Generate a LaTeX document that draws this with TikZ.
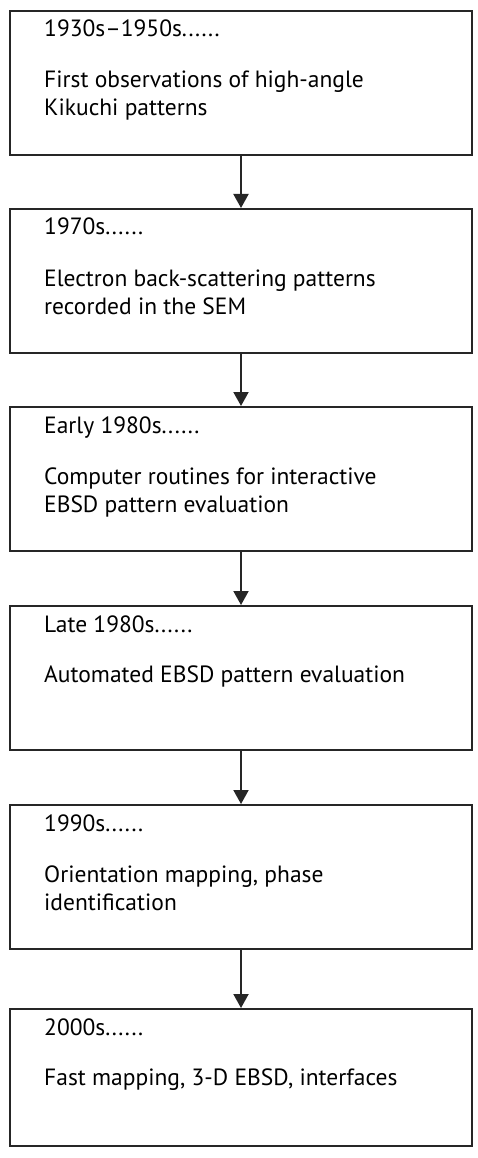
\documentclass[tikz,border=0pt]{standalone}
\usepackage{fontspec}
\setmainfont{PT Sans}
\usepackage{tikz}
\usetikzlibrary{positioning,arrows.meta}

\begin{document}
\begin{tikzpicture}[x=1pt, y=1pt,
    stage/.style={draw=black!85, line width=2pt, minimum width=462pt,
        minimum height=144pt, inner sep=0pt, anchor=north},
    era/.style={anchor=base west, inner sep=0pt, font=\fontsize{23.5}{28}\selectfont},
    event/.style={era, align=left},
    flow/.style={-{Triangle[width=15pt,length=14pt]}, line width=2pt, black!85}]
    \useasboundingbox (0,0) rectangle (477,-1158);

    % timeline boxes
    \node[stage] (s1930) at (241,-10) {};
    \node[stage] (s1970) at (241,-208) {};
    \node[stage] (searly) at (241,-406) {};
    \node[stage] (slate) at (241,-605) {};
    \node[stage] (s1990) at (241,-804) {};
    \node[stage, minimum height=137pt] (s2000) at (241,-1008) {};

    % texts (two-line texts sit on their last baseline)
    \node[era] (h1930) at ([shift={(35,-27)}]s1930.north west) {1930s–1950s......};
    \node[event] (e1930) at ([shift={(35,-106)}]s1930.north west) {First observations of high-angle\\Kikuchi patterns};

    \node[era] (h1970) at ([shift={(35,-27)}]s1970.north west) {1970s......};
    \node[event] (e1970) at ([shift={(35,-106)}]s1970.north west) {Electron back-scattering patterns\\recorded in the SEM};

    \node[era] (hearly) at ([shift={(35,-27)}]searly.north west) {Early 1980s......};
    \node[event] (eearly) at ([shift={(35,-106)}]searly.north west) {Computer routines for interactive\\EBSD pattern evaluation};

    \node[era] (hlate) at ([shift={(35,-27)}]slate.north west) {Late 1980s......};
    \node[event] (elate) at ([shift={(35,-77)}]slate.north west) {Automated EBSD pattern evaluation};

    \node[era] (h1990) at ([shift={(35,-27)}]s1990.north west) {1990s......};
    \node[event] (e1990) at ([shift={(35,-106)}]s1990.north west) {Orientation mapping, phase\\identification};

    \node[era] (h2000) at ([shift={(35,-27)}]s2000.north west) {2000s......};
    \node[event] (e2000) at ([shift={(35,-77)}]s2000.north west) {Fast mapping, 3-D EBSD, interfaces};

    % arrows
    \draw[flow] (s1930) -- (s1970);
    \draw[flow] (s1970) -- (searly);
    \draw[flow] (searly) -- (slate);
    \draw[flow] (slate) -- (s1990);
    \draw[flow] (s1990) -- (s2000);
\end{tikzpicture}
\end{document}
